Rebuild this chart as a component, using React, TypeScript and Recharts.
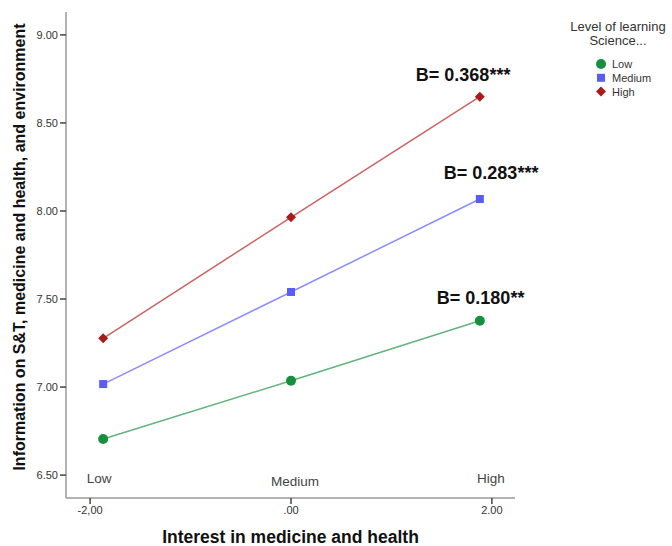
import React from 'react';
import { LineChart, Line, XAxis, YAxis, Legend, LabelList, ReferenceDot } from 'recharts';

// ---- data ----
const interestLevels = [-1.87, 0, 1.88];
const lowSeries = [6.705, 7.036, 7.377];
const mediumSeries = [7.017, 7.54, 8.068];
const highSeries = [7.277, 7.964, 8.649];
const slopeLow = 'B= 0.180**';
const slopeMedium = 'B= 0.283***';
const slopeHigh = 'B= 0.368***';
const xTicks = [-2, 0, 2];
const xTickLabels = ['-2,00', '.00', '2.00'];
const yTicks = [6.5, 7, 7.5, 8, 8.5, 9];
const levelNames = ['Low', 'Medium', 'High'];
const levelLabelX = [-1.91, 0.04, 1.99];
const levelLabelY = [6.483, 6.466, 6.483];

const data = interestLevels.map((x, i) => ({
  x,
  low: lowSeries[i],
  medium: mediumSeries[i],
  high: highSeries[i],
}));

const GREEN_LINE = '#62b47c';
const GREEN_DOT = '#17903e';
const BLUE_LINE = '#8a8cff';
const BLUE_DOT = '#5a5cf8';
const RED_LINE = '#cc6262';
const RED_DOT = '#aa1a1a';

const FONT = 'Arial, "Liberation Sans", sans-serif';

function Marker({ kind, cx, cy }: { kind: string; cx: number; cy: number }) {
  if (kind === 'low') return <circle cx={cx} cy={cy} r={5} fill={GREEN_DOT} />;
  if (kind === 'medium')
    return <rect x={cx - 4} y={cy - 4} width={8} height={8} fill={BLUE_DOT} />;
  return (
    <polygon
      points={`${cx},${cy - 5} ${cx + 5},${cy} ${cx},${cy + 5} ${cx - 5},${cy}`}
      fill={RED_DOT}
    />
  );
}

const makeDot = (kind: string) => (props: any) => (
  <Marker key={`${kind}-${props.index}`} kind={kind} cx={props.cx} cy={props.cy} />
);

const makeSlopeLabel = (text: string, dx: number, dy: number) => (props: any) => {
  if (props.index !== interestLevels.length - 1) return null;
  return (
    <text
      x={Number(props.x) + dx}
      y={Number(props.y) + dy}
      fontFamily={FONT}
      fontWeight="bold"
      fontSize={18}
      fill="#111"
    >
      {text}
    </text>
  );
};

const legendItems = [
  { key: 'low', name: 'Low' },
  { key: 'medium', name: 'Medium' },
  { key: 'high', name: 'High' },
];

function LegendContent() {
  return (
    <svg width={112} height={90} style={{ fontFamily: FONT, display: 'block' }}>
      <text x={58} y={14} textAnchor="middle" fontSize={13} fill="#333">
        Level of learning
      </text>
      <text x={58} y={28} textAnchor="middle" fontSize={13} fill="#333">
        Science...
      </text>
      {legendItems.map((it, i) => (
        <g key={it.key}>
          <Marker kind={it.key} cx={41} cy={47 + i * 13.8} />
          <text x={52} y={51 + i * 13.8} fontSize={11} fill="#333">
            {it.name}
          </text>
        </g>
      ))}
    </svg>
  );
}

export default function App() {
  return (
    <div style={{ position: 'absolute', left: 0, top: 0 }}>
      <LineChart
        width={672}
        height={546}
        data={data}
        margin={{ top: 12, right: 157, left: 0, bottom: 0 }}
      >
        <XAxis
          dataKey="x"
          type="number"
          domain={[-2.24, 2.23]}
          ticks={xTicks}
          tickFormatter={(v: number) => xTickLabels[xTicks.indexOf(v)] ?? String(v)}
          height={48}
          axisLine={{ stroke: '#9a9a9a', strokeWidth: 1.5 }}
          tickLine={{ stroke: '#444', strokeWidth: 1.5 }}
          tickSize={6}
          tickMargin={2}
          tick={{ fontSize: 11, fill: '#333', fontFamily: FONT }}
          label={{
            value: 'Interest in medicine and health',
            position: 'insideBottom',
            offset: 3,
            style: { fontSize: 17.5, fontWeight: 'bold', fill: '#111', fontFamily: FONT },
          }}
        />
        <YAxis
          type="number"
          domain={[6.37, 9.13]}
          ticks={yTicks}
          tickFormatter={(v: number) => v.toFixed(2)}
          width={66}
          axisLine={{ stroke: '#9a9a9a', strokeWidth: 1.5 }}
          tickLine={{ stroke: '#444', strokeWidth: 1.5 }}
          tickSize={6}
          tickMargin={2}
          tick={{ fontSize: 11, fill: '#333', fontFamily: FONT }}
          label={{
            value: 'Information on S&T, medicine and health, and environment',
            angle: -90,
            position: 'insideLeft',
            dx: 14,
            dy: -8,
            style: { textAnchor: 'middle', fontSize: 16, fontWeight: 'bold', fill: '#111', fontFamily: FONT },
          }}
        />
        <Legend
          verticalAlign="middle"
          align="center"
          layout="vertical"
          content={() => <LegendContent />}
          wrapperStyle={{ left: 560, top: 17, width: 112, height: 90 }}
        />
        {levelNames.map((name, i) => (
          <ReferenceDot
            key={name}
            x={levelLabelX[i]}
            y={levelLabelY[i]}
            r={0}
            fill="none"
            stroke="none"
            label={(p: any) => {
              const vb = p.viewBox || {};
              const cx = (vb.x ?? 0) + (vb.width ?? 0) / 2;
              const cy = (vb.y ?? 0) + (vb.height ?? 0) / 2;
              return (
                <text
                  x={cx}
                  y={cy + 4.5}
                  textAnchor="middle"
                  fontSize={13.5}
                  fill="#444"
                  fontFamily={FONT}
                >
                  {name}
                </text>
              );
            }}
          />
        ))}
        <Line
          dataKey="low"
          name="Low"
          stroke={GREEN_LINE}
          strokeWidth={1.5}
          dot={makeDot('low')}
          activeDot={false}
          isAnimationActive={false}
        >
          <LabelList dataKey="low" content={makeSlopeLabel(slopeLow, -43, -17)} />
        </Line>
        <Line
          dataKey="medium"
          name="Medium"
          stroke={BLUE_LINE}
          strokeWidth={1.5}
          dot={makeDot('medium')}
          activeDot={false}
          isAnimationActive={false}
        >
          <LabelList dataKey="medium" content={makeSlopeLabel(slopeMedium, -36, -20)} />
        </Line>
        <Line
          dataKey="high"
          name="High"
          stroke={RED_LINE}
          strokeWidth={1.5}
          dot={makeDot('high')}
          activeDot={false}
          isAnimationActive={false}
        >
          <LabelList dataKey="high" content={makeSlopeLabel(slopeHigh, -64, -16)} />
        </Line>
      </LineChart>
    </div>
  );
}
